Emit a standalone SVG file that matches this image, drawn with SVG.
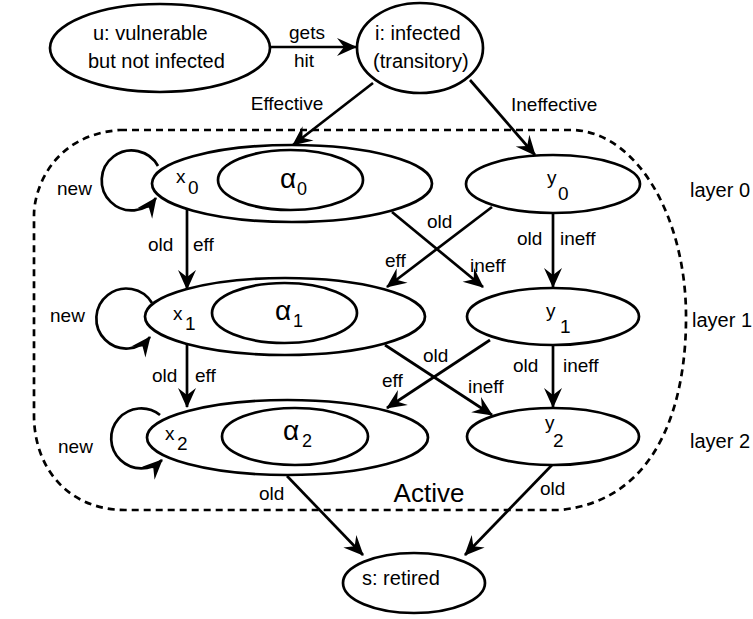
<svg xmlns="http://www.w3.org/2000/svg" width="753" height="619" viewBox="0 0 753 619">
<style>
.n{fill:#fff;stroke:#000;stroke-width:2.7}
.t{font-family:"Liberation Sans",Arial,sans-serif;font-size:20px;fill:#000}
.l{font-family:"Liberation Sans",Arial,sans-serif;font-size:19px;fill:#000}
.a{font-family:"Liberation Sans",Arial,sans-serif;font-size:28px;fill:#000}
.e{fill:none;stroke:#000;stroke-width:2.7}
.b{fill:none;stroke:#000;stroke-width:2.7;stroke-dasharray:7 5}
</style>
<defs>
<marker id="ah" markerUnits="userSpaceOnUse" markerWidth="24" markerHeight="24" viewBox="-22 -12 24 24" refX="0" refY="0" orient="auto">
<path d="M1,0 L-19,-9 L-12,0 L-19,9 Z" fill="#000"/>
</marker>
</defs>
<rect width="753" height="619" fill="#fff"/>
<g id="active-boundary">
<path class="b" d="M 120 130 L 575 130 C 640 135 685 220 686 313 C 687 400 660 500 560 510 L 125 510 C 70 510 34 470 34 415 L 34 215 C 34 190 52 135 120 130 Z"/>
<text class="t" x="429" y="502" text-anchor="middle" style="font-size:26px">Active</text>
</g>
<g id="node-u">
<ellipse class="n" cx="160" cy="48" rx="110" ry="44"/>
<text class="t" x="93" y="40">u: vulnerable</text>
<text class="t" x="88" y="68">but not infected</text>
</g>
<g id="node-i">
<ellipse class="n" cx="420" cy="48" rx="63" ry="45"/>
<text class="t" x="375" y="40">i: infected</text>
<text class="t" x="373" y="68">(transitory)</text>
</g>
<g id="node-x0">
<ellipse class="n" cx="292" cy="183.5" rx="140" ry="38.5"/>
<text class="l"><tspan x="176" y="183">x</tspan><tspan x="188" y="194">0</tspan></text>
</g>
<g id="node-alpha0">
<ellipse class="n" cx="290.5" cy="180" rx="72.5" ry="30"/>
<text class="a"><tspan x="280" y="188">α</tspan><tspan x="297" y="195" style="font-size:18px">0</tspan></text>
</g>
<g id="node-y0">
<ellipse class="n" cx="553" cy="184" rx="87" ry="29"/>
<text class="l"><tspan x="547" y="184">y</tspan><tspan x="558" y="200">0</tspan></text>
</g>
<g id="node-x1">
<ellipse class="n" cx="285" cy="316.5" rx="140" ry="38.5"/>
<text class="l"><tspan x="173" y="320">x</tspan><tspan x="185" y="330">1</tspan></text>
</g>
<g id="node-alpha1">
<ellipse class="n" cx="284.5" cy="313" rx="72.5" ry="30"/>
<text class="a"><tspan x="275" y="320">α</tspan><tspan x="293" y="327" style="font-size:18px">1</tspan></text>
</g>
<g id="node-y1">
<ellipse class="n" cx="553" cy="316.5" rx="86" ry="28.5"/>
<text class="l"><tspan x="546" y="317">y</tspan><tspan x="560" y="333">1</tspan></text>
</g>
<g id="node-x2">
<ellipse class="n" cx="287.5" cy="437.5" rx="140.5" ry="37.5"/>
<text class="l"><tspan x="165" y="440">x</tspan><tspan x="177" y="450">2</tspan></text>
</g>
<g id="node-alpha2">
<ellipse class="n" cx="295" cy="436.5" rx="73" ry="28.5"/>
<text class="a"><tspan x="283" y="440">α</tspan><tspan x="302" y="447" style="font-size:18px">2</tspan></text>
</g>
<g id="node-y2">
<ellipse class="n" cx="553" cy="436.5" rx="86" ry="28.5"/>
<text class="l"><tspan x="545" y="429">y</tspan><tspan x="553" y="447">2</tspan></text>
</g>
<g id="node-s">
<ellipse class="n" cx="414" cy="583" rx="71" ry="30"/>
<text class="t" x="362" y="585">s: retired</text>
</g>
<g id="layers">
<text class="t" x="690" y="197">layer 0</text>
<text class="t" x="692" y="327">layer 1</text>
<text class="t" x="690" y="448">layer 2</text>
</g>
<g id="connectors">
<path class="e" d="M 270 47 L 356 47" marker-end="url(#ah)"/>
<text class="l" x="307" y="39" text-anchor="middle">gets</text>
<text class="l" x="304" y="67" text-anchor="middle">hit</text>
<path class="e" d="M 373 83 L 293 145" marker-end="url(#ah)"/>
<text class="l" x="287" y="110" text-anchor="middle">Effective</text>
<path class="e" d="M 470 80 L 535 155" marker-end="url(#ah)"/>
<text class="l" x="511" y="111">Ineffective</text>
<path class="e" d="M 158 166 A 30 30 0 1 0 156 198" marker-end="url(#ah)"/>
<text class="l" x="57" y="195">new</text>
<path class="e" d="M 152 303 A 30 30 0 1 0 150 337" marker-end="url(#ah)"/>
<text class="l" x="50" y="322">new</text>
<path class="e" d="M 160 415 A 30 30 0 1 0 162 460" marker-end="url(#ah)"/>
<text class="l" x="58" y="453">new</text>
<path class="e" d="M 187 209 L 187 289" marker-end="url(#ah)"/>
<text class="l" x="148" y="251">old</text>
<text class="l" x="193" y="251">eff</text>
<path class="e" d="M 392 212 L 483 287" marker-end="url(#ah)"/>
<text class="l" x="427" y="228">old</text>
<text class="l" x="470" y="272">ineff</text>
<path class="e" d="M 492 207 L 387 287" marker-end="url(#ah)"/>
<text class="l" x="385" y="267">eff</text>
<path class="e" d="M 553 213 L 553 287" marker-end="url(#ah)"/>
<text class="l" x="517" y="245">old</text>
<text class="l" x="560" y="245">ineff</text>
<path class="e" d="M 187 344 L 187 407" marker-end="url(#ah)"/>
<text class="l" x="152" y="382">old</text>
<text class="l" x="195" y="382">eff</text>
<path class="e" d="M 385 345 L 492 415" marker-end="url(#ah)"/>
<text class="l" x="423" y="362">old</text>
<text class="l" x="468" y="393">ineff</text>
<path class="e" d="M 490 340 L 387 408" marker-end="url(#ah)"/>
<text class="l" x="382" y="387">eff</text>
<path class="e" d="M 553 345 L 553 407" marker-end="url(#ah)"/>
<text class="l" x="513" y="372">old</text>
<text class="l" x="563" y="372">ineff</text>
<path class="e" d="M 287 476 L 363 555" marker-end="url(#ah)"/>
<text class="l" x="259" y="500">old</text>
<path class="e" d="M 552 465 L 465 555" marker-end="url(#ah)"/>
<text class="l" x="540" y="495">old</text>
</g>
</svg>
